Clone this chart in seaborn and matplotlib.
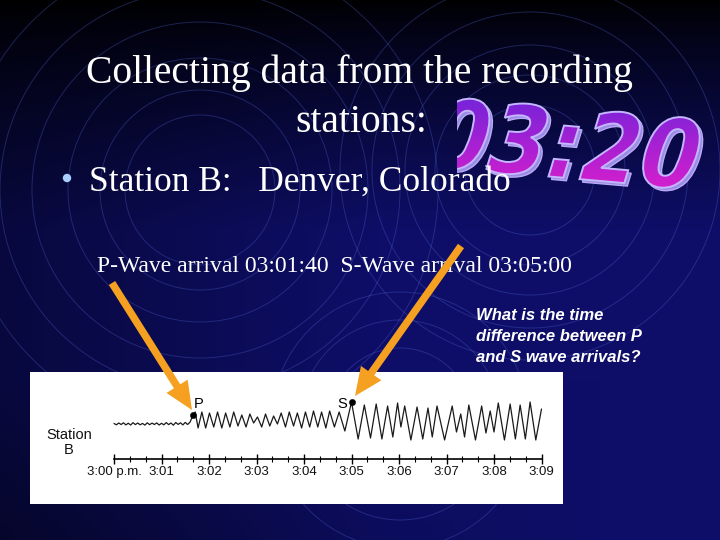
import numpy as np
import matplotlib
matplotlib.use("Agg")
import matplotlib.pyplot as plt
import seaborn as sns
import pandas as pd
from matplotlib.patches import Rectangle, Circle, FancyArrow, PathPatch
from matplotlib.textpath import TextPath
from matplotlib.font_manager import FontProperties
from matplotlib.transforms import Affine2D
from matplotlib.ticker import AutoMinorLocator

# ---------------- data ----------------
title_lines = ["Collecting data from the recording", "stations:"]
station_text = "Station B:   Denver, Colorado"
arrival_text = "P-Wave arrival 03:01:40  S-Wave arrival 03:05:00"
question_lines = ["What is the time", "difference between P", "and S wave arrivals?"]
clock_text = "03:20"

# time axis (minutes after 3:00 p.m.)
tick_minutes = [0, 1, 2, 3, 4, 5, 6, 7, 8, 9]
tick_labels = ["3:00 p.m.", "3:01", "3:02", "3:03", "3:04",
               "3:05", "3:06", "3:07", "3:08", "3:09"]

# seismogram trace: background noise before P
pre_t = [0.00, 0.05, 0.10, 0.15, 0.20, 0.25, 0.30, 0.35, 0.40, 0.45, 0.50,
         0.55, 0.60, 0.65, 0.70, 0.75, 0.80, 0.85, 0.90, 0.95, 1.00, 1.05,
         1.10, 1.15, 1.20, 1.25, 1.30, 1.35, 1.40, 1.45, 1.50, 1.55, 1.60]
pre_amp = [0.5, -0.8, 1.0, -0.5, 1.2, -0.9, 0.8, -1.0, 1.3, -0.6, 1.0,
           -0.8, 0.6, -1.1, 1.2, -0.7, 0.9, -0.5, 1.1, -1.0, 0.7, -0.8,
           1.4, -0.6, 1.0, -1.2, 1.5, -0.4, 1.2, -0.9, 1.6, -0.5, 1.8]
# P wave train (P arrival to S arrival)
p_t = [1.667, 1.71, 1.77, 1.85, 1.93, 2.01, 2.10, 2.18, 2.27, 2.35, 2.44,
       2.52, 2.61, 2.69, 2.78, 2.86, 2.94, 3.02, 3.11, 3.19, 3.28, 3.36,
       3.44, 3.52, 3.61, 3.69, 3.78, 3.86, 3.95, 4.03, 4.12, 4.20, 4.29,
       4.37, 4.46, 4.54, 4.64, 4.74, 4.86]
p_amp = [9, 12, -4, 12, -4, 11, -3, 12, -4, 11, -3,
         12, -2, 9, -3, 10, 1, 7, -3, 10, -2, 8,
         0, 11, -3, 12, -2, 11, -4, 12, -3, 13, -3,
         12, -4, 13, -3, 12, -7]
# S wave train
s_t = [5.00, 5.14, 5.27, 5.40, 5.52, 5.64, 5.76, 5.87, 5.97, 6.04, 6.12,
       6.25, 6.38, 6.50, 6.61, 6.70, 6.80, 6.96, 7.12, 7.21, 7.30, 7.38,
       7.47, 7.61, 7.74, 7.83, 7.92, 8.00, 8.09, 8.22, 8.34, 8.45, 8.55,
       8.66, 8.76, 8.88, 9.00]
s_amp = [22, -15, 19, -14, 20, -15, 18, -13, 21, -3, 18,
         -16, 17, -15, 16, -13, 18, -16, 18, -8, 10, -13,
         19, -16, 18, -9, 13, -8, 21, -16, 20, -15, 19,
         -15, 22, -16, 15]

arrival_t = [1.667, 5.00]
arrival_amp = [9, 22]
arrival_names = ["P", "S"]

trace = pd.DataFrame({"minute": pre_t + p_t + s_t,
                      "amplitude": pre_amp + p_amp + s_amp})
arrivals = pd.DataFrame({"minute": arrival_t, "amplitude": arrival_amp,
                         "wave": arrival_names})

# ---------------- style ----------------
sns.set_theme(style="white")
plt.rcParams["font.family"] = ["Liberation Sans", "DejaVu Sans"]

W, H = 720, 540
fig = plt.figure(figsize=(7.2, 5.4), dpi=100)

# background axes in pixel coordinates
bg = fig.add_axes([0, 0, 1, 1], zorder=0)
bg.axis("off")
yy, xx = np.mgrid[0:H, 0:W]
fy = np.clip(yy / 230.0, 0, 1) ** 0.8
fx = 0.6 + 0.4 * np.clip(xx / 380.0, 0, 1)
fb = 1 - 0.3 * np.clip((yy - 380) / 160.0, 0, 1) * (1 - np.clip(xx / 600.0, 0, 1))
base = np.array([14, 14, 104]) / 255.0
img = base[None, None, :] * (fy * fx * fb)[..., None]
bg.imshow(img, extent=(0, W, H, 0), aspect="auto", zorder=0, interpolation="bilinear")

ring_col = (0.30, 0.38, 0.80, 0.35)
for (cx, cy), radii in [((200, 190), [75, 100, 132, 168, 200, 238]),
                        ((530, 170), [65, 95, 125, 158, 190]),
                        ((400, 420), [45, 72, 100, 128])]:
    for r in radii:
        bg.add_patch(Circle((cx, cy), r, fill=False, ec=ring_col, lw=0.7, zorder=1))

# WordArt style clock text
fp = FontProperties(family="DejaVu Sans", weight="bold")
tp = TextPath((0, 0), clock_text, size=1, prop=fp)
bb = tp.get_extents()
tr = (Affine2D().translate(-bb.x0, -bb.y0)
      .scale(262.0 / bb.width, 72.0 / bb.height)
      .skew_deg(12, 0).rotate_deg(-5).scale(1, -1).translate(425, 167))
cpath = tr.transform_path(tp)
clip_rect = Rectangle((457, 0), 300, 300, transform=bg.transData)
shadow = PathPatch(cpath, fc="#9a8ce6", ec="#b8aaf4", lw=1.0, zorder=2,
                   transform=Affine2D().translate(3, 3) + bg.transData)
bg.add_patch(shadow)
shadow.set_clip_path(clip_rect)
main = PathPatch(cpath, fc="none", ec="#c4b6ff", lw=1.4, zorder=4)
bg.add_patch(main)
main.set_clip_path(clip_rect)
grad = np.linspace(0, 1, 100)[:, None, None]
top_c = np.array([0.45, 0.14, 0.85])
bot_c = np.array([0.86, 0.12, 0.80])
gimg = top_c * (1 - grad) + bot_c * grad
gimg = np.repeat(gimg, 2, axis=1)
gi = bg.imshow(gimg, extent=(457, 720, 195, 95), aspect="auto", zorder=3)
fillpatch = PathPatch(cpath, fc="none", ec="none")
bg.add_patch(fillpatch)
gi.set_clip_path(fillpatch)

# slide texts
serif = ["Liberation Serif", "DejaVu Serif"]
bg.text(359, 83, title_lines[0], color="white", fontsize=28.5, family=serif,
        ha="center", va="baseline", zorder=5)
bg.text(361, 132, title_lines[1], color="white", fontsize=28.5, family=serif,
        ha="center", va="baseline", zorder=5)
bg.add_patch(Circle((67, 178), 4.2, fc="#a8cfff", ec="none", zorder=5))
bg.text(89, 191, station_text, color="white", fontsize=25.5, family=serif,
        ha="left", va="baseline", zorder=5)
bg.text(97, 272, arrival_text, color="white", fontsize=17, family=serif,
        ha="left", va="baseline", zorder=5)
for i, line in enumerate(question_lines):
    bg.text(476, 320 + i * 21, line, color="white", fontsize=12,
            weight="bold", style="italic", ha="left", va="baseline", zorder=5)

# white seismogram panel
bg.add_patch(Rectangle((30, 372), 533, 132, fc="white", ec="none", zorder=6))
bg.text(69, 435, "Station", color="#111111", fontsize=10.5, ha="center",
        va="center", zorder=7)
bg.text(69, 450, "B", color="#111111", fontsize=10.5, ha="center",
        va="center", zorder=7)
bg.set_xlim(0, W)
bg.set_ylim(H, 0)

# seismogram axes
ax = fig.add_axes([114 / W, (H - 459) / H, 427.5 / W, 87 / H], zorder=1)
ax.set_facecolor("none")
sns.lineplot(data=trace, x="minute", y="amplitude", ax=ax, sort=False,
             estimator=None, color="#1a1a1a", lw=0.9, clip_on=False)
sns.scatterplot(data=arrivals, x="minute", y="amplitude", ax=ax, color="black",
                s=20, edgecolor="black", zorder=5, clip_on=False, legend=False)
label_offsets = {"P": (0.12, 11), "S": (-0.19, -2)}
for t_, a_, n_ in zip(arrival_t, arrival_amp, arrival_names):
    dx, dy = label_offsets[n_]
    ax.text(t_ + dx, a_ + dy, n_, fontsize=10.5, color="black",
            ha="center", va="center")
ax.set_xlim(0, 9)
ax.set_ylim(-35, 52)
for s in ["left", "top", "right"]:
    ax.spines[s].set_visible(False)
ax.spines["bottom"].set_color("black")
ax.spines["bottom"].set_linewidth(1.2)
ax.set_yticks([])
ax.set_xticks(tick_minutes)
ax.set_xticklabels(tick_labels, fontsize=9.5)
ax.xaxis.set_minor_locator(AutoMinorLocator(3))
ax.tick_params(axis="x", which="major", bottom=True, direction="inout",
               length=7, width=1, pad=1.5, colors="black", labelcolor="#111111")
ax.tick_params(axis="x", which="minor", bottom=True, direction="inout",
               length=5, width=0.8, colors="black")
ax.set_xlabel("")
ax.set_ylabel("")

# arrows overlay
top = fig.add_axes([0, 0, 1, 1], zorder=2)
top.axis("off")
top.set_facecolor("none")
orange = "#f5a020"
for (x0, y0, x1, y1) in [(112, 283, 192, 410), (461, 246, 355, 396)]:
    top.add_patch(FancyArrow(x0, y0, x1 - x0, y1 - y0, width=7.5, head_width=25,
                             head_length=28, length_includes_head=True,
                             fc=orange, ec="none"))
top.set_xlim(0, W)
top.set_ylim(H, 0)

fig.savefig("out.png", dpi=100)
